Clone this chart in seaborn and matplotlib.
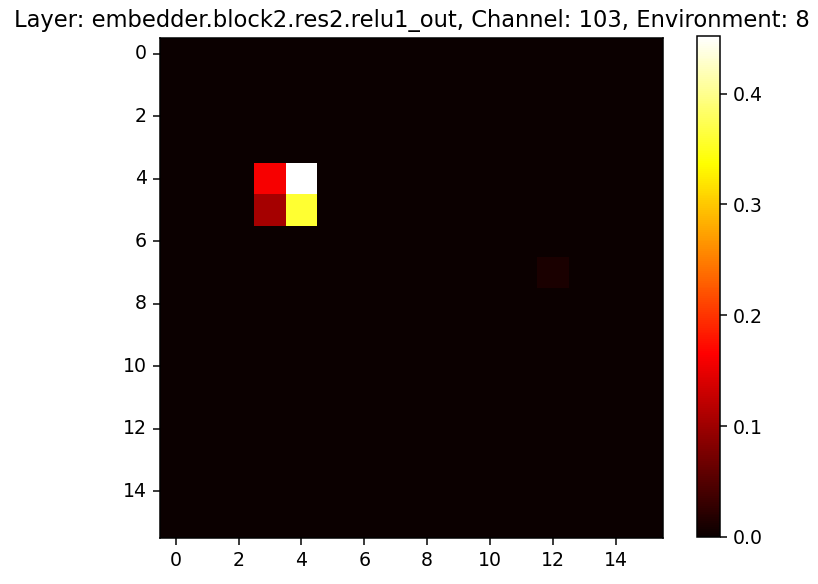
import numpy as np
import pandas as pd
import matplotlib
matplotlib.use('Agg')
import matplotlib.pyplot as plt
import seaborn as sns

# activation map, 16x16, mostly zero
grid_size = 16
hot_rows = [4, 4, 5, 5, 7]
hot_cols = [3, 4, 3, 4, 12]
hot_vals = [0.16, 0.452, 0.105, 0.36, 0.012]
tick_labels = [0, 2, 4, 6, 8, 10, 12, 14]

act = np.zeros((grid_size, grid_size))
for r, c, v in zip(hot_rows, hot_cols, hot_vals):
    act[r, c] = v
df_act = pd.DataFrame(act)

dpi = 136
fig = plt.figure(figsize=(818/dpi, 584/dpi), dpi=dpi)
ax = fig.add_axes([160/818, 46/584, 503/818, 500/584])
cax = fig.add_axes([697/818, 47/584, 23/818, 501/584])

sns.heatmap(df_act, ax=ax, cbar_ax=cax, cmap='hot', vmin=0, vmax=max(hot_vals),
            xticklabels=2, yticklabels=2)

ax.set_xticks([t + 0.5 for t in tick_labels])
ax.set_xticklabels(tick_labels, rotation=0)
ax.set_yticks([t + 0.5 for t in tick_labels])
ax.set_yticklabels(tick_labels, rotation=0)
ax.tick_params(length=3.5, labelsize=10)
for s in ax.spines.values():
    s.set_visible(True)
    s.set_linewidth(0.8)
ax.set_title('Layer: embedder.block2.res2.relu1_out, Channel: 103, Environment: 8', fontsize=12)

cb = ax.collections[0].colorbar
cb.outline.set_linewidth(0.8)
cb.outline.set_edgecolor('black')
cb.set_ticks([0.0, 0.1, 0.2, 0.3, 0.4])
cax.tick_params(labelsize=10, length=3.5)

fig.savefig('out.png', dpi=dpi)
